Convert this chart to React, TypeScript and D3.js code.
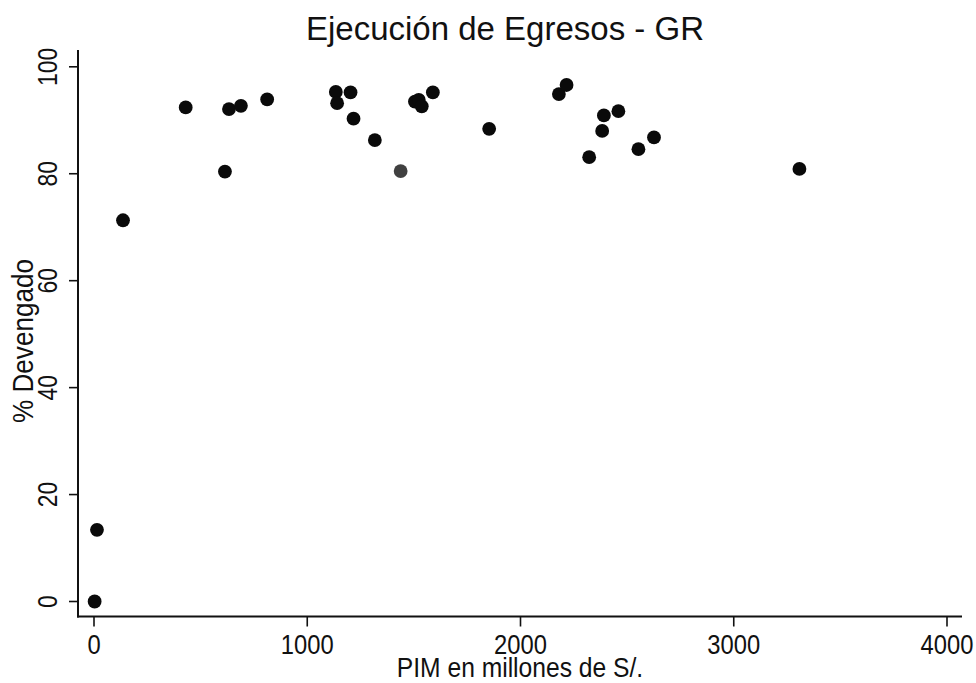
import React from "react";
import * as d3 from "d3";

const pimValues: number[] = [3, 14, 136, 430, 614, 633, 689, 812, 1134, 1140, 1203, 1217, 1317, 1438, 1505, 1523, 1537, 1589, 1853, 2180, 2216, 2322, 2383, 2391, 2459, 2553, 2626, 3308];
const devValues: number[] = [0, 13.4, 71.3, 92.4, 80.4, 92.1, 92.7, 93.9, 95.3, 93.2, 95.2, 90.3, 86.3, 80.5, 93.5, 93.8, 92.6, 95.2, 88.4, 94.9, 96.6, 83.1, 88.0, 90.9, 91.7, 84.6, 86.8, 80.9];
const highlighted: boolean[] = pimValues.map((_, i) => i === 13);
const xTicks: number[] = [0, 1000, 2000, 3000, 4000];
const yTicks: number[] = [0, 20, 40, 60, 80, 100];

const W = 976;
const H = 683;

export default function App() {
  const x = d3.scaleLinear().domain([0, 4000]).range([94, 947]);
  const y = d3.scaleLinear().domain([0, 100]).range([601.5, 66.8]);
  const axisX = 78;
  const axisY = 616.5;
  const font = "'Liberation Sans', Arial, Helvetica, sans-serif";
  return (
    <svg width={W} height={H} style={{ position: "absolute", left: 0, top: 0, background: "#fff" }} fontFamily={font}>
      <rect width={W} height={H} fill="#fff" />
      <text x={505} y={40} textAnchor="middle" fontSize={33} fill="#111">Ejecución de Egresos - GR</text>
      {/* axes */}
      <line x1={axisX} x2={axisX} y1={50} y2={axisY + 1} stroke="#111" strokeWidth={2} />
      <line x1={axisX - 1} x2={962} y1={axisY} y2={axisY} stroke="#111" strokeWidth={2} />
      {yTicks.map((t) => (
        <g key={"y" + t}>
          <line x1={axisX - 9} x2={axisX} y1={y(t)} y2={y(t)} stroke="#111" strokeWidth={1.6} />
          <text transform={`translate(57,${y(t)}) rotate(-90) scale(0.85,1)`} textAnchor="middle" fontSize={27} fill="#111">{t}</text>
        </g>
      ))}
      {xTicks.map((t) => (
        <g key={"x" + t}>
          <line x1={x(t)} x2={x(t)} y1={axisY} y2={axisY + 10} stroke="#111" strokeWidth={1.6} />
          <text transform={`translate(${x(t)},654) scale(0.88,1)`} textAnchor="middle" fontSize={27} fill="#111">{t}</text>
        </g>
      ))}
      <text transform="translate(520,677) scale(0.88,1)" textAnchor="middle" fontSize={28} fill="#111">PIM en millones de S/.</text>
      <text transform="translate(33,341) rotate(-90) scale(0.9,1)" textAnchor="middle" fontSize={29} fill="#111">% Devengado</text>
      {pimValues.map((v, i) => (
        <circle key={i} cx={x(v)} cy={y(devValues[i])} r={6.9} fill={highlighted[i] ? "#404040" : "#0a0a0a"} />
      ))}
    </svg>
  );
}
